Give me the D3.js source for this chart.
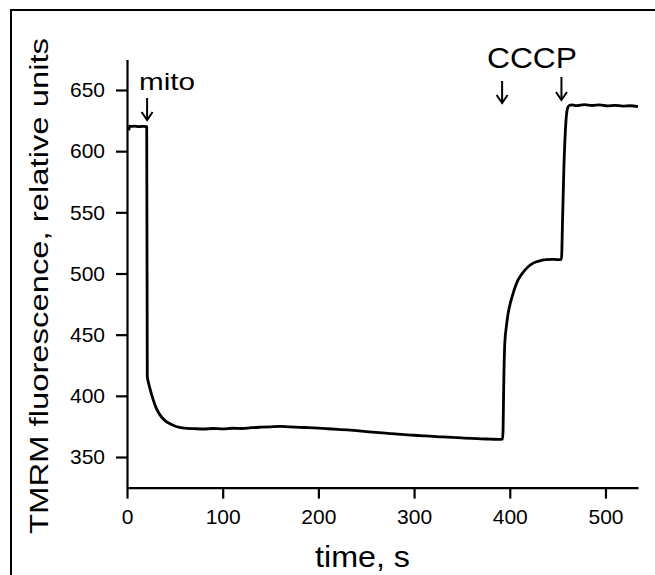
<!DOCTYPE html>
<html>
<head>
<meta charset="utf-8">
<script src="https://cdn.jsdelivr.net/npm/d3@7"></script>
<style>
  html, body { margin: 0; padding: 0; background: #fff; }
  svg { display: block; font-family: "Liberation Sans", Arial, Helvetica, sans-serif; }
  .axis path, .axis line { stroke: #000; stroke-width: 2.2; }
  .axis text { fill: #000; font-size: 21px; font-family: "Liberation Sans", Arial, sans-serif; }
</style>
</head>
<body>
<svg id="chart" width="655" height="575"></svg>
<script>
// --- data (time in s, TMRM fluorescence)
const times = [
  2, 2.6, 4, 8, 12, 16, 19, 20.6,
  21.2, 21.8, 23, 25, 27.5, 30, 32.5, 35, 40, 45, 50, 55, 60,
  70, 80, 90, 100, 110, 120, 130, 140, 150, 160, 170, 180, 190, 200,
  210, 220, 230, 240, 250, 260, 270, 280, 290, 300, 310, 320, 330, 340,
  350, 360, 370, 380, 388, 392.4,
  393.0, 393.6, 394.8, 396.5, 398.3, 401, 403.5, 408.7, 412.5, 417.5, 422, 427.9, 433, 438.4, 444, 449, 454,
  455.2, 456.5, 458, 459.3, 460.3, 461.8, 465, 470, 478, 486, 494, 502, 510, 518, 526, 534
];
const values = [
  617, 620.5, 620.2, 620.4, 620, 620.3, 620.1, 620,
  416, 413, 409, 403, 396.5, 391, 387, 383.8, 379.5, 377.2, 375.4, 374.3, 373.6,
  373.2, 372.9, 373.3, 373, 373.5, 373.3, 374, 374.4, 374.7, 375, 374.6, 374.3, 374, 373.6,
  373.1, 372.6, 372.1, 371.5, 370.8, 370.1, 369.5, 368.9, 368.3, 367.8, 367.3, 366.8, 366.4, 366,
  365.6, 365.2, 364.9, 364.6, 364.4, 364.6,
  372, 405, 443, 457, 467.5, 477, 483.8, 494.7, 499.5, 504.2, 507.3, 509.6, 510.8, 511.4, 511.6, 511.4, 511.6,
  545, 585, 615, 630, 635, 637.2, 637.8, 637.2, 638, 637.3, 637.8, 637, 637.5, 636.8, 637.1, 636.4
];

const xTicks = [0, 100, 200, 300, 400, 500];
const yTicks = [350, 400, 450, 500, 550, 600, 650];
const xDomain = [0, 534];
const yDomain = [325, 675];

// annotations: arrow times
const mitoArrow = [21];
const cccpArrows = [392, 454];

const series = times.map((t, i) => ({ t, v: values[i] }));

const svg = d3.select("#chart");

// outer frame (right/bottom fall outside the picture)
svg.append("path")
  .attr("d", "M11,700 L11,10 L700,10")
  .attr("fill", "none").attr("stroke", "#000").attr("stroke-width", 2);

const x = d3.scaleLinear().domain(xDomain).range([127, 638]);
const y = d3.scaleLinear().domain(yDomain).range([487.6, 59.4]);

// axes
svg.append("g").attr("class", "axis")
  .attr("transform", `translate(0,${y(yDomain[0])})`)
  .call(d3.axisBottom(x).tickValues(xTicks).tickSize(11).tickSizeOuter(0).tickPadding(10));

svg.append("g").attr("class", "axis")
  .attr("transform", `translate(${x(0)},0)`)
  .call(d3.axisLeft(y).tickValues(yTicks).tickSize(11).tickSizeOuter(0).tickPadding(11));

// trace
const line = d3.line().x(d => x(d.t)).y(d => y(d.v)).curve(d3.curveMonotoneX);
svg.append("path").datum(series)
  .attr("fill", "none").attr("stroke", "#000")
  .attr("stroke-width", 2.8).attr("stroke-linejoin", "round")
  .attr("d", line);

// arrows
function arrow(xp, y0, y1) {
  const g = svg.append("g").attr("stroke", "#000").attr("stroke-width", 2).attr("fill", "none");
  g.append("line").attr("x1", xp).attr("x2", xp).attr("y1", y0).attr("y2", y1);
  g.append("path").attr("d", `M${xp - 5.5},${y1 - 8} L${xp},${y1} L${xp + 5.5},${y1 - 8}`);
}
mitoArrow.forEach(t => arrow(x(t), 98, 120));
arrow(x(cccpArrows[0]), 81, 103);
arrow(x(cccpArrows[1]), 77, 100);

// labels
svg.append("text").attr("x", 139).attr("y", 90)
  .attr("font-size", 24).attr("textLength", 56).attr("lengthAdjust", "spacingAndGlyphs")
  .text("mito");

svg.append("text").attr("x", 487).attr("y", 68)
  .attr("font-size", 30).attr("textLength", 90).attr("lengthAdjust", "spacingAndGlyphs")
  .text("CCCP");

svg.append("text").attr("x", 315).attr("y", 567)
  .attr("font-size", 30).attr("textLength", 95).attr("lengthAdjust", "spacingAndGlyphs")
  .text("time, s");

svg.append("text")
  .attr("transform", "translate(48,286) rotate(-90)")
  .attr("text-anchor", "middle")
  .attr("font-size", 25).attr("textLength", 496).attr("lengthAdjust", "spacingAndGlyphs")
  .text("TMRM fluorescence, relative units");
</script>
</body>
</html>
